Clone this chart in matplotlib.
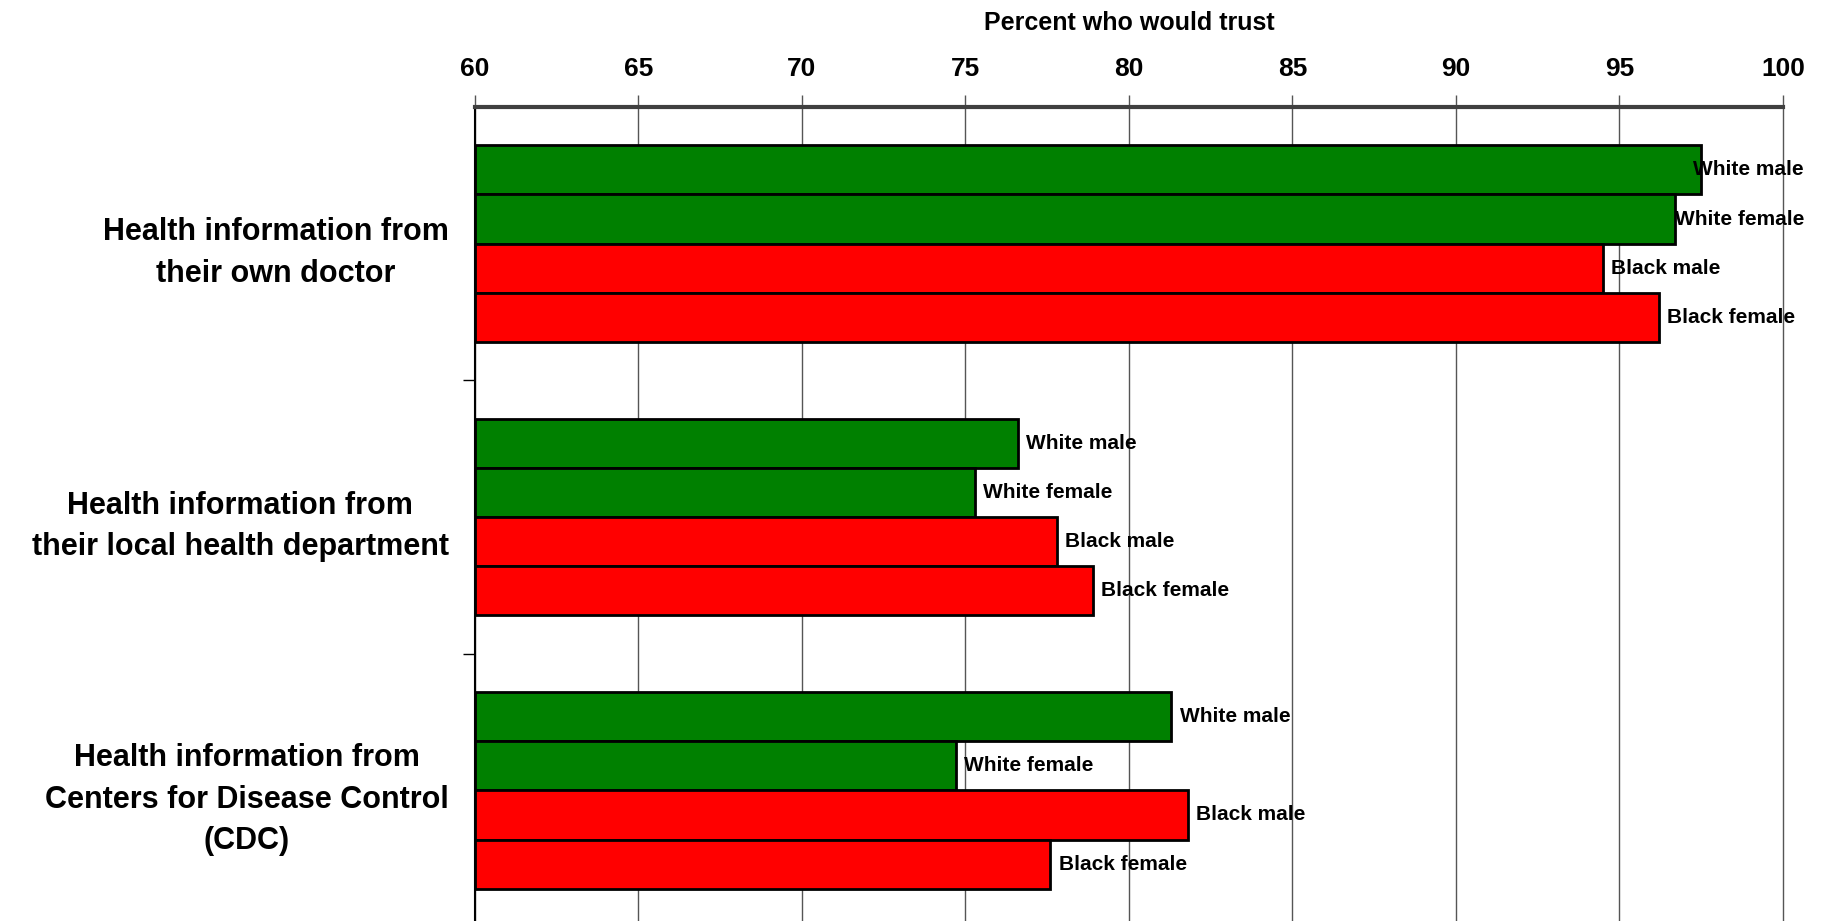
import numpy as np
import matplotlib
matplotlib.use("Agg")
import matplotlib.pyplot as plt

plt.rcParams['font.family'] = ['Liberation Sans', 'DejaVu Sans']
plt.rcParams['font.weight'] = 'bold'

categories = ["Health information from\ntheir own doctor",
              "Health information from\ntheir local health department",
              "Health information from\nCenters for Disease Control\n(CDC)"]
groups = ["White male", "White female", "Black male", "Black female"]
group_colors = ["#008000", "#008000", "#ff0000", "#ff0000"]
values = {
    "White male":   [97.5, 76.6, 81.3],
    "White female": [96.7, 75.3, 74.7],
    "Black male":   [94.5, 77.8, 81.8],
    "Black female": [96.2, 78.9, 77.6],
}
x_ticks = [60, 65, 70, 75, 80, 85, 90, 95, 100]

fig = plt.figure(figsize=(18.24, 9.21), dpi=100)
ax = fig.add_axes([0.2604, -0.0065, 0.7171, 0.8903])

bh = 0.18
offsets = [-1.5 * bh, -0.5 * bh, 0.5 * bh, 1.5 * bh]
y = np.arange(len(categories))

ax.set_axisbelow(True)
for xv in x_ticks:
    ax.axvline(xv, color='#555555', lw=1.0, zorder=0, clip_on=False)

texts = []
for g, off, col in zip(groups, offsets, group_colors):
    bars = ax.barh(y + off, np.array(values[g]) - 60, left=60, height=bh,
                   color=col, edgecolor='black', linewidth=2, zorder=2)
    for yi, v in zip(y, values[g]):
        t = ax.text(v + 0.25, yi + off, g, va='center', ha='left',
                    fontsize=15, fontweight='bold', zorder=3)
        texts.append(t)

ax.set_xlim(60, 100)
ax.set_ylim(2.5, -0.5)

ax.xaxis.tick_top()
ax.xaxis.set_label_position('top')
ax.set_xticks(x_ticks)
ax.set_xticklabels([str(v) for v in x_ticks], fontsize=19, fontweight='bold')
ax.tick_params(axis='x', direction='out', length=9, width=1, color='#555555', pad=10)
ax.set_xlabel("Percent who would trust", fontsize=18, fontweight='bold', labelpad=19)

ax.set_yticks([0.5, 1.5, 2.5])
ax.set_yticklabels([])
ax.tick_params(axis='y', which='major', direction='out', length=9, width=1)
ax.set_yticks(y, minor=True)
ax.set_yticklabels(categories, minor=True, fontsize=22, fontweight='bold')
ax.tick_params(axis='y', which='minor', length=0, pad=19)
for lab in ax.get_yticklabels(minor=True):
    lab.set_multialignment('center')
    lab.set_linespacing(1.5)

ax.spines['top'].set_linewidth(3)
ax.spines['top'].set_color('#404040')
ax.spines['left'].set_linewidth(1.5)
ax.spines['left'].set_color('black')
ax.spines['right'].set_visible(False)
ax.spines['bottom'].set_visible(False)

# keep labels inside the figure: right-align those that would run off the edge
fig.canvas.draw()
renderer = fig.canvas.get_renderer()
limit_px = 1804
for t in texts:
    bb = t.get_window_extent(renderer)
    if bb.x1 > limit_px:
        xd = ax.transData.inverted().transform((limit_px, bb.y0))[0]
        t.set_x(xd)
        t.set_ha('right')

fig.savefig("out.png", dpi=100)
